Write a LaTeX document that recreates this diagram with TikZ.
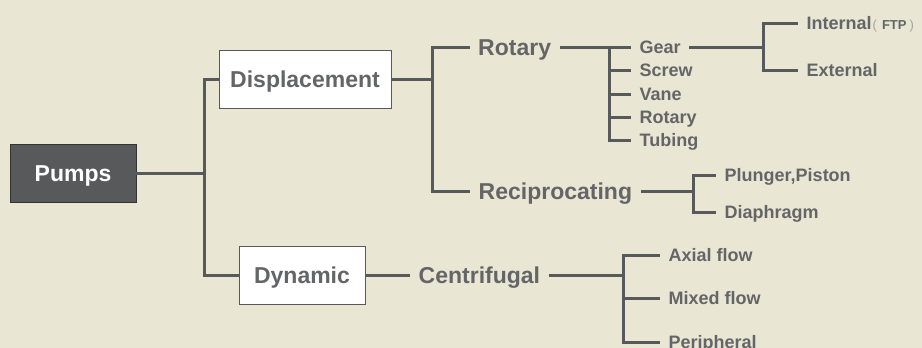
\documentclass[tikz,border=0pt]{standalone}
\usepackage{fontspec}
\setmainfont{Liberation Sans}
\definecolor{bgcol}{HTML}{E9E6D4}
\definecolor{linecol}{HTML}{58595B}
\definecolor{txtcol}{HTML}{646567}
\newcommand\paren[1]{{\mdseries\color{txtcol!60}#1}}
\begin{document}
\begin{tikzpicture}[x=1pt, y=-1pt, line join=miter,
	big/.style={font=\fontsize{23}{23}\selectfont\bfseries, text=txtcol, inner xsep=8.5pt, inner ysep=0pt, text height=16.5pt, text depth=0pt, anchor=west},
	small/.style={font=\fontsize{18}{18}\selectfont\bfseries, text=txtcol, inner xsep=8.5pt, inner ysep=0pt, text height=12.9pt, text depth=0pt, anchor=west},
	box/.style={draw=linecol, line width=0.8pt, fill=white, minimum height=58pt, inner sep=0pt, text height=16.5pt, text depth=0pt, font=\fontsize{23}{23}\selectfont\bfseries, text=txtcol},
	conn/.style={draw=linecol, line width=3pt}]
	\fill[bgcol] (0,0) rectangle (922,348);
	\useasboundingbox (0,0) rectangle (922,348);
	% trunks
	\coordinate (t0) at (204,0); \coordinate (t1) at (432,0); \coordinate (t2) at (609,0);
	\coordinate (t3) at (763,0); \coordinate (t4) at (693,0); \coordinate (t5) at (623,0);
	% boxes
	\node[box, fill=linecol, draw=black!80, text=white, minimum width=126pt] (pumps) at (73,173) {Pumps};
	\node[box, minimum width=172pt] (disp) at (305,79) {Displacement};
	\node[box, minimum width=126pt] (dyn) at (302,275) {Dynamic};
	% second level
	\node[big] (rot) at (469.5,47) {Rotary};
	\node[big] (recip) at (470,191) {Reciprocating};
	\node[big] (cent) at (410,275) {Centrifugal};
	% leaves
	\foreach \n/\t/\y in {gear/Gear/47, screw/Screw/70, vane/Vane/94, rotb/Rotary/117, tubing/Tubing/140}
		\node[small] (\n) at (631,\y) {\t};
	\node[small, inner xsep=0pt] (internal) at (806.5,23) {Internal{\fontsize{13}{13}\selectfont\kern1pt\paren{(}\kern5pt FTP\kern3pt\paren{)}}};
	\node[small] (external) at (798,70) {External};
	\node[small] (plunger) at (716,175) {Plunger,Piston};
	\node[small] (diaph) at (716,212) {Diaphragm};
	\foreach \n/\t/\y in {axial/Axial flow/255, mixed/Mixed flow/298, periph/Peripheral/342}
		\node[small] (\n) at (660,\y) {\t};
	% connectors
	\draw[conn] (pumps.east) -- (pumps.east -| t0) |- (disp.west);
	\draw[conn] (pumps.east -| t0) |- (dyn.west);
	\draw[conn] (disp.east) -- (disp.east -| t1) |- (rot.west);
	\draw[conn] (disp.east -| t1) |- (recip.west);
	\draw[conn] (rot.east) -- (rot.east -| t2);
	\foreach \n in {gear,screw,vane,rotb,tubing}
		\draw[conn] (rot.east -| t2) |- (\n.west);
	\draw[conn] (gear.east) -- (gear.east -| t3) |- ([xshift=-8.5pt]internal.west);
	\draw[conn] (gear.east -| t3) |- (external.west);
	\draw[conn] (recip.east) -- (recip.east -| t4) |- (plunger.west);
	\draw[conn] (recip.east -| t4) |- (diaph.west);
	\draw[conn] (dyn.east) -- (cent.west);
	\draw[conn] (cent.east) -- (cent.east -| t5);
	\foreach \n in {axial,mixed,periph}
		\draw[conn] (cent.east -| t5) |- (\n.west);
\end{tikzpicture}
\end{document}
